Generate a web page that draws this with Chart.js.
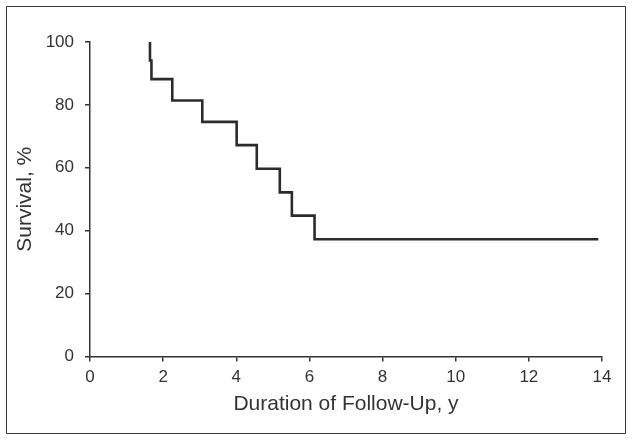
<!DOCTYPE html>
<html>
<head>
<meta charset="utf-8">
<script src="https://cdn.jsdelivr.net/npm/chart.js@4.4.1/dist/chart.umd.min.js"></script>
<style>
  body { margin: 0; background: #fff; }
  #wrap { position: relative; width: 634px; height: 440px; }
  #frame {
    position: absolute; left: 6px; top: 6px; width: 618px; height: 426px;
    border: 1.5px solid #3a3a3a;
  }
  canvas { position: absolute; left: 0; top: 0; }
</style>
</head>
<body>
<div id="wrap">
  <div id="frame"></div>
  <canvas id="myChart" width="634" height="440"></canvas>
</div>
<script>
// Kaplan-Meier style survival curve
const years    = [1.64, 1.64, 1.68, 2.25, 3.07, 4.01, 4.56, 5.19, 5.52, 6.14, 13.9];
const survival = [100, 94.1, 88.2, 81.4, 74.6, 67.2, 59.7, 52.2, 44.8, 37.3, 37.3];
const xTicks = [0, 2, 4, 6, 8, 10, 12, 14];
const yTicks = [0, 20, 40, 60, 80, 100];

const ink = '#333';
const font = 'Liberation Sans, Arial, Helvetica, sans-serif';

const ctx = document.getElementById('myChart');

let points = years.map((x, i) => ({x: x, y: survival[i]}));

new Chart(ctx, {
  type: 'scatter',
  data: {
    datasets: [{
      data: points,
      showLine: true,
      stepped: true,
      borderColor: '#2b2b2b',
      borderWidth: 2.6,
      pointRadius: 0,
      fill: false,
    }]
  },
  options: {
    responsive: false,
    animation: false,
    layout: {
      padding: {top: 42, right: 32, bottom: 0, left: 0}
    },
    scales: {
      x: {
        type: 'linear',
        min: 0,
        max: 14,
        afterBuildTicks: scale => { scale.ticks = xTicks.map(v => ({value: v})); },
        afterFit: scale => { scale.height = 83.5; },
        border: { display: true, color: ink, width: 1.5 },
        grid: { display: true, drawOnChartArea: false, drawTicks: true, tickLength: 5, color: ink, lineWidth: 1.5 },
        ticks: { color: ink, padding: 6, font: { size: 17, family: font } },
        title: {
          display: true,
          text: 'Duration of Follow-Up, y',
          color: ink,
          padding: {top: 4, bottom: 23},
          font: { size: 21, family: font }
        }
      },
      y: {
        type: 'linear',
        min: 0,
        max: 100,
        afterBuildTicks: scale => { scale.ticks = yTicks.map(v => ({value: v})); },
        afterFit: scale => { scale.width = 90; },
        border: { display: true, color: ink, width: 1.5 },
        grid: { display: true, drawOnChartArea: false, drawTicks: true, tickLength: 5, color: ink, lineWidth: 1.5 },
        ticks: { color: ink, padding: 11, font: { size: 17, family: font } },
        title: {
          display: true,
          text: 'Survival, %',
          color: ink,
          padding: {top: 13, bottom: 0},
          font: { size: 21, family: font }
        }
      }
    },
    plugins: {
      legend: { display: false },
      tooltip: { enabled: false }
    }
  }
});
</script>
</body>
</html>
